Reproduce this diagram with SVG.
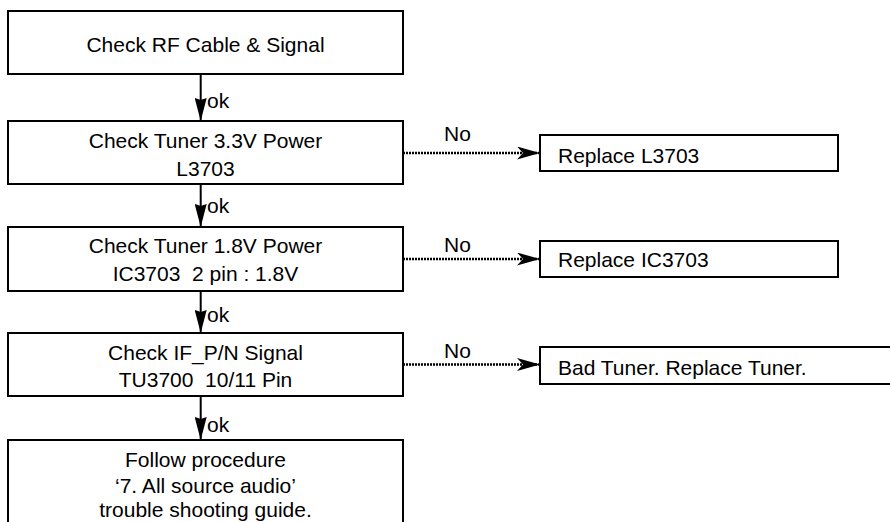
<svg xmlns="http://www.w3.org/2000/svg" width="890" height="522" viewBox="0 0 890 522">
<style>
.box{fill:#fff;stroke:#000;stroke-width:2}
.t{font-family:"Liberation Sans",Arial,sans-serif;font-size:21px;fill:#000}
.c{text-anchor:middle}
.ok{stroke:#000;stroke-width:2;fill:none}
.no{stroke:#000;stroke-width:2.6;fill:none;stroke-dasharray:2 1}
</style>
<defs>
<marker id="av" markerUnits="userSpaceOnUse" viewBox="0 0 23 12" refX="23" refY="6" markerWidth="23" markerHeight="12" orient="auto">
<path d="M0,0 L23,6 L0,12 L2,6 z" fill="#000"/>
</marker>
<marker id="ah" markerUnits="userSpaceOnUse" viewBox="0 0 23 13" refX="23" refY="6.5" markerWidth="23" markerHeight="13" orient="auto">
<path d="M0,0 L23,6.5 L0,13 L6,6.5 z" fill="#000"/>
</marker>
</defs>
<g id="n1"><rect class="box" x="8" y="11" width="395" height="63"/><text class="t c" x="205.5" y="52">Check RF Cable &amp; Signal</text></g>
<g id="n2"><rect class="box" x="8" y="121" width="395" height="63"/><text class="t c" x="205.5" y="148">Check Tuner 3.3V Power</text><text class="t c" x="205.5" y="175.5">L3703</text></g>
<g id="n3"><rect class="box" x="8" y="227" width="395" height="64"/><text class="t c" x="205.5" y="253">Check Tuner 1.8V Power</text><text class="t c" x="205.5" y="280.5" xml:space="preserve">IC3703  2 pin : 1.8V</text></g>
<g id="n4"><rect class="box" x="8" y="333" width="395" height="63"/><text class="t c" x="205.5" y="360">Check IF_P/N Signal</text><text class="t c" x="205.5" y="387" xml:space="preserve">TU3700  10/11 Pin</text></g>
<g id="n5"><rect class="box" x="8" y="440" width="395" height="100"/><text class="t c" x="205.5" y="467">Follow procedure</text><text class="t c" x="205.5" y="493">‘7. All source audio’</text><text class="t c" x="205.5" y="517">trouble shooting guide.</text></g>
<g id="r1"><rect class="box" x="540" y="135" width="298" height="36"/><text class="t" x="558" y="162.5">Replace L3703</text></g>
<g id="r2"><rect class="box" x="540" y="241" width="298" height="36"/><text class="t" x="558" y="267">Replace IC3703</text></g>
<g id="r3"><rect class="box" x="540" y="347" width="360" height="37"/><text class="t" x="558" y="375">Bad Tuner. Replace Tuner.</text></g>
<g id="connectors">
<path class="ok" d="M200.7,74 V121" marker-end="url(#av)"/>
<path class="ok" d="M200.7,184 V227" marker-end="url(#av)"/>
<path class="ok" d="M200.7,291 V333" marker-end="url(#av)"/>
<path class="ok" d="M200.7,396 V440" marker-end="url(#av)"/>
<text class="t" x="207" y="108">ok</text>
<text class="t" x="207" y="213">ok</text>
<text class="t" x="207" y="321.5">ok</text>
<text class="t" x="207" y="431.5">ok</text>
<path class="no" d="M403,153 H540" marker-end="url(#ah)"/>
<path class="no" d="M403,259 H540" marker-end="url(#ah)"/>
<path class="no" d="M403,364.5 H540" marker-end="url(#ah)"/>
<text class="t" x="444" y="141">No</text>
<text class="t" x="444" y="252">No</text>
<text class="t" x="444" y="358">No</text>
</g>
</svg>
